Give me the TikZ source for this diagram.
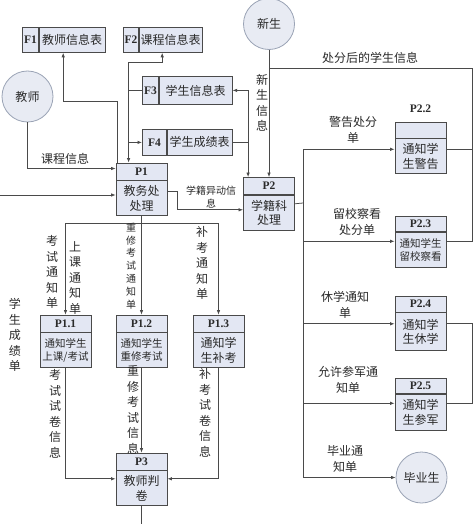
\documentclass[tikz,border=0pt]{standalone}
\usepackage{fontspec}
\setmainfont{Liberation Serif}
\newfontfamily\cjk{Noto Sans CJK SC}
\usetikzlibrary{arrows.meta, positioning, calc}
\definecolor{boxfill}{HTML}{E3E7F3}
\definecolor{circfill}{HTML}{E8EBF3}
\definecolor{circline}{HTML}{9AA3B5}
\definecolor{linec}{HTML}{4A4A4A}
\definecolor{txt}{HTML}{2A2A2A}
\tikzset{
  plain/.style={draw=linec, line width=0.75pt},
  flow/.style={plain, -{Latex[length=4.5pt,width=3.5pt]}},
  flowtwo/.style={plain, {Latex[length=4.5pt,width=3.5pt]}-{Latex[length=4.5pt,width=3.5pt]}},
  ent/.style={circle, draw=circline, line width=0.8pt, fill=circfill, minimum size=51pt, inner sep=0pt, font=\cjk\fontsize{12}{14}\selectfont},
  phead/.style={draw=linec, line width=0.8pt, fill=boxfill, minimum width=51pt, minimum height=17pt, inner sep=0pt, font=\fontsize{11.5}{12}\selectfont\bfseries},
  pbody/.style={draw=linec, line width=0.8pt, fill=boxfill, minimum width=51pt, minimum height=35pt, inner sep=0pt, align=center, font=\cjk\fontsize{12}{14.5}\selectfont},
  pbodys/.style={pbody, font=\cjk\fontsize{10.5}{13}\selectfont},
  sid/.style={draw=linec, line width=0.8pt, fill=boxfill, minimum height=25pt, inner sep=0pt, font=\fontsize{11.5}{12}\selectfont\bfseries},
  sname/.style={draw=linec, line width=0.8pt, fill=boxfill, minimum height=25pt, inner sep=0pt, font=\cjk\fontsize{12}{14}\selectfont},
  lbl/.style={align=center, inner sep=0pt, font=\cjk\fontsize{12}{15.5}\selectfont},
  slbl/.style={align=center, inner sep=0pt, font=\cjk\fontsize{10}{12.8}\selectfont},
}
\begin{document}
\begin{tikzpicture}[x=1pt, y=-1pt, every node/.append style={text=txt}]
\fill[white] (0,0) rectangle (474,524);
\useasboundingbox (0,0) rectangle (474,524);

% external entities
\node[ent] (js) at (27.5,96.5) {教师};
\node[ent] (xs) at (269,24) {新生};
\node[ent] (bys) at (421.5,477.5) {毕业生};

% data stores
\node[sid, minimum width=16pt, anchor=north west] (f1id) at (22,27) {F1};
\node[sname, minimum width=66pt, right=0pt of f1id] (f1) {教师信息表};
\node[sid, minimum width=15pt, anchor=north west] (f2id) at (123,27) {F2};
\node[sname, minimum width=63pt, right=0pt of f2id] (f2) {课程信息表};
\node[sid, minimum width=16pt, minimum height=28pt, anchor=north west] (f3id) at (142,76) {F3};
\node[sname, minimum width=73pt, minimum height=28pt, right=0pt of f3id] (f3) {学生信息表};
\node[sid, minimum width=24pt, minimum height=26pt, anchor=north west] (f4id) at (142,129) {F4};
\node[sname, minimum width=65pt, minimum height=26pt, right=0pt of f4id] (f4) {学生成绩表};

% processes
\node[phead] (p1h) at (141.5,171.5) {P1};
\node[pbody, below=0pt of p1h] (p1) {教务处\\处理};
\node[phead] (p2h) at (269,186) {P2};
\node[pbody, below=0pt of p2h] (p2) {学籍科\\处理};
\node[phead] (p11h) at (65.5,323.5) {P1.1};
\node[pbodys, below=0pt of p11h] (p11) {通知学生\\上课/考试};
\node[phead] (p12h) at (141.5,323.5) {P1.2};
\node[pbodys, below=0pt of p12h] (p12) {通知学生\\重修考试};
\node[phead] (p13h) at (218.5,323.5) {P1.3};
\node[pbody, below=0pt of p13h] (p13) {通知学\\生补考};
\node[phead] (p3h) at (141.5,461.5) {P3};
\node[pbody, below=0pt of p3h] (p3) {教师判\\卷};
\node[phead, minimum height=16pt, label={[label distance=5pt, font=\fontsize{11.5}{12}\selectfont\bfseries]above:P2.2}] (p22h) at (420.5,130) {};
\node[pbody, below=0pt of p22h] (p22) {通知学\\生警告};
\node[phead, minimum height=15pt] (p23h) at (420.5,224) {P2.3};
\node[pbodys, below=0pt of p23h] (p23) {通知学生\\留校察看};
\node[phead, minimum height=16pt] (p24h) at (420.5,304) {P2.4};
\node[pbody, minimum height=38pt, below=0pt of p24h] (p24) {通知学\\生休学};
\node[phead, minimum height=15pt] (p25h) at (420.5,386) {P2.5};
\node[pbody, minimum height=36pt, below=0pt of p25h] (p25) {通知学\\生参军};

% flows around P1
\draw[flow] ([xshift=2pt]p1h.north west) -- ++(0,-61) -| ([xshift=-9pt]f1.south);
\draw[flowtwo] ([xshift=-8.5pt]f2.south) -- ++(0,10) -| ([xshift=13pt]p1h.north west);
\draw[plain] (f3id.west) -- ([xshift=13pt]p1h.north west |- f3id.west);
\draw[flow] ([xshift=13pt]p1h.north west |- f4id.west) -- (f4id.west);
\draw[flow] (js.south) |- ([yshift=3pt]p1h.west);
\coordinate (lft) at (0,195);
\draw[flow] (lft) -- (lft -| p1.west);
\draw[flow] ([yshift=7pt]p1.east) -- ++(10,0) |- ([yshift=3pt]p2.west);

% flows around P2
\draw[flowtwo] (f3.east) -| ([xshift=5pt]p2h.north west);
\draw[plain] (f4.east) -- ([xshift=5pt]p2h.north west |- f4.east);
\draw[flow] (xs.south) -- (p2h.north);
\coordinate (rt) at (472,68);
\draw[plain] ([yshift=7pt]p22.east) -| (rt) -- (rt -| xs.south);
\draw[plain] ([yshift=8.5pt]p23.east) -| (rt);
\draw[plain] ([yshift=8pt]p24.east) -| ([xshift=26pt,yshift=9pt]p25.east) -- ([yshift=9pt]p25.east);
\coordinate (b2) at (303,203);
\draw[plain] ([yshift=9pt]p2.east) -- (b2);
\draw[flow] (b2) |- ([yshift=7pt]p22.west);
\draw[flow] (b2) |- ([yshift=8.5pt]p23.west);
\draw[flow] (b2) |- ([yshift=8pt]p24.west);
\draw[flow] (b2) |- ([yshift=9pt]p25.west);
\draw[flow] (b2) |- (bys.west);

% P1 to P1.x, P1.x to P3
\coordinate (b1) at (141.5,223);
\draw[plain] (p1.south) -- (b1);
\draw[flow] (b1) -| (p11h.north);
\draw[flow] (b1) -- (p12h.north);
\draw[flow] (b1) -| (p13h.north);
\draw[flow] (p11.south) |- ([yshift=9.5pt]p3.west);
\draw[flow] (p12.south) -- (p3h.north);
\draw[flow] (p13.south) |- ([yshift=9.5pt]p3.east);
\coordinate (p3out) at (141.5,524);
\draw[plain] (p3.south) -- (p3out);

% labels
\node[lbl] (lkc) at (65,159) {课程信息};
\node[lbl] (lcf) at (370,58) {处分后的学生信息};
\node[lbl] (lxsxx) at (262,103) {新\\生\\信\\息};
\node[slbl] (lyd) at (211,197) {学籍异动信\\息};
\node[lbl] (ljg) at (353,130) {警告处分\\单};
\node[lbl] (llx) at (357,222) {留校察看\\处分单};
\node[lbl] (lxx) at (345,305) {休学通知\\单};
\node[lbl] (lcj) at (348,380) {允许参军通\\知单};
\node[lbl] (lby) at (345,459) {毕业通\\知单};
\node[lbl] (lkstz) at (52,272) {考\\试\\通\\知\\单};
\node[lbl] (lsktz) at (75,278) {上\\课\\通\\知\\单};
\node[slbl] (lcxtz) at (131,266) {重\\修\\考\\试\\通\\知\\单};
\node[lbl] (lbktz) at (202,263) {补\\考\\通\\知\\单};
\node[lbl] (lsj1) at (55,414) {考\\试\\试\\卷\\信\\息};
\node[lbl] (lsj2) at (133,410) {重\\修\\考\\试\\信\\息};
\node[lbl] (lsj3) at (205,413) {补\\考\\试\\卷\\信\\息};
\node[lbl] (lcjd) at (15,335) {学\\生\\成\\绩\\单};
\end{tikzpicture}
\end{document}
